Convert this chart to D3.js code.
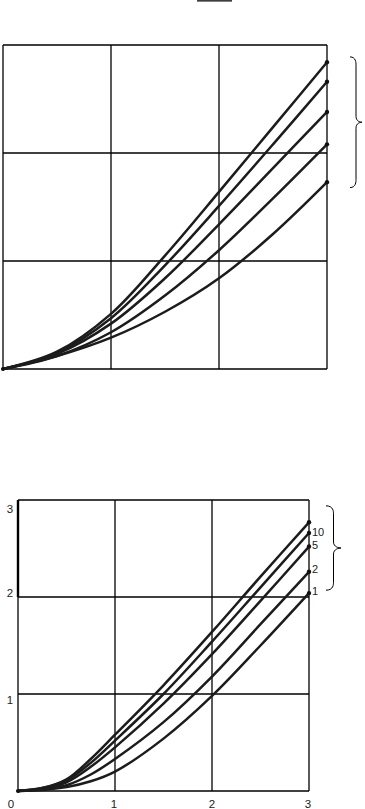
<!DOCTYPE html>
<html>
<head>
<meta charset="utf-8">
<script src="https://cdn.jsdelivr.net/npm/d3@7"></script>
<style>
  body { margin: 0; background: #fff; }
  svg { display: block; font-family: "Liberation Sans", Arial, sans-serif; }
</style>
</head>
<body>
<svg id="chart" width="365" height="809"></svg>
<script>
// upper chart: x positions and five curves (top to bottom)
var upperX = [0, 0.5, 1, 1.5, 2, 2.5, 3];
var upperCurves = [
    [0, 0.16, 0.51, 1.05, 1.64, 2.24, 2.84],
    [0, 0.15, 0.47, 0.96, 1.51, 2.08, 2.66],
    [0, 0.14, 0.42, 0.84, 1.34, 1.86, 2.38],
    [0, 0.12, 0.34, 0.68, 1.10, 1.58, 2.08],
    [0, 0.12, 0.29, 0.53, 0.84, 1.25, 1.73]
];

// lower chart: x positions and five curves (top to bottom)
var lowerX = [0, 0.25, 0.5, 0.75, 1, 1.5, 2, 2.5, 3];
var lowerCurves = [
    [0, 0.03, 0.12, 0.33, 0.58, 1.09, 1.64, 2.21, 2.77],
    [0, 0.03, 0.11, 0.29, 0.52, 1.00, 1.54, 2.10, 2.66],
    [0, 0.02, 0.09, 0.25, 0.45, 0.90, 1.41, 1.96, 2.52],
    [0, 0.02, 0.06, 0.17, 0.33, 0.71, 1.18, 1.72, 2.26],
    [0, 0.01, 0.04, 0.10, 0.20, 0.54, 0.98, 1.50, 2.04]
];
var lowerCurveLabels = ["", "10", "5", "2", "1"];

var gridTicks = [0, 1, 2, 3];
var lowerXTickLabels = ["0", "1", "2", "3"];
var lowerYTickLabels = ["1", "2", "3"];

var svg = d3.select("#chart");

function drawPanel(g, x, y, xs, curves) {
    // grid + frame
    g.selectAll(".vgrid").data(gridTicks).enter().append("line")
        .attr("x1", d => x(d)).attr("x2", d => x(d))
        .attr("y1", y(0)).attr("y2", y(3))
        .attr("stroke", "#000").attr("stroke-width", 1.3);
    g.selectAll(".hgrid").data(gridTicks).enter().append("line")
        .attr("y1", d => y(d)).attr("y2", d => y(d))
        .attr("x1", x(0)).attr("x2", x(3))
        .attr("stroke", "#000").attr("stroke-width", 1.3);

    var line = d3.line()
        .x((d, i) => x(xs[i]))
        .y(d => y(d))
        .curve(d3.curveCatmullRom.alpha(0.5));

    g.selectAll(".curve").data(curves).enter().append("path")
        .attr("fill", "none")
        .attr("stroke", "#1c1c1c")
        .attr("stroke-width", 2.5)
        .attr("stroke-linecap", "round")
        .attr("d", line);

    // end dots
    g.selectAll(".dot").data(curves).enter().append("circle")
        .attr("cx", x(3))
        .attr("cy", d => y(d[d.length - 1]))
        .attr("r", 2.2)
        .attr("fill", "#111");
    g.append("circle").attr("cx", x(0)).attr("cy", y(0)).attr("r", 2).attr("fill", "#111");
}

// curly brace opening to the left, tip pointing right
function brace(x0, y0, y1, w) {
    var m = (y0 + y1) / 2, h = w / 2, r = 6;
    return "M" + x0 + "," + y0 +
        " C" + (x0 + h) + "," + y0 + " " + (x0 + h) + "," + (y0 + r) + " " + (x0 + h) + "," + (y0 + r + 2) +
        " L" + (x0 + h) + "," + (m - r) +
        " C" + (x0 + h) + "," + (m - 1) + " " + (x0 + w - 2) + "," + m + " " + (x0 + w) + "," + m +
        " C" + (x0 + w - 2) + "," + m + " " + (x0 + h) + "," + (m + 1) + " " + (x0 + h) + "," + (m + r) +
        " L" + (x0 + h) + "," + (y1 - r - 2) +
        " C" + (x0 + h) + "," + (y1 - r) + " " + (x0 + h) + "," + y1 + " " + x0 + "," + y1;
}

// ---- upper chart
var x1 = d3.scaleLinear().domain([0, 3]).range([3, 327]);
var y1 = d3.scaleLinear().domain([0, 3]).range([369, 45]);
var g1 = svg.append("g");
drawPanel(g1, x1, y1, upperX, upperCurves);

// remnant of the fraction bar above the chart
svg.append("line")
    .attr("x1", 197).attr("x2", 232).attr("y1", 0.8).attr("y2", 0.8)
    .attr("stroke", "#000").attr("stroke-width", 1.3);

g1.append("path")
    .attr("d", brace(350, y1(2.89), y1(1.68), 12))
    .attr("fill", "none").attr("stroke", "#000").attr("stroke-width", 1);

// ---- lower chart
var x2 = d3.scaleLinear().domain([0, 3]).range([18, 309]);
var y2 = d3.scaleLinear().domain([0, 3]).range([791, 500]);
var g2 = svg.append("g");
drawPanel(g2, x2, y2, lowerX, lowerCurves);

// thicker left edge between 2 and 3
g2.append("line")
    .attr("x1", x2(0)).attr("x2", x2(0))
    .attr("y1", y2(2)).attr("y2", y2(3))
    .attr("stroke", "#000").attr("stroke-width", 2.4);

// axis labels
var xLabelShift = [-7, -1, 0, -1];
g2.selectAll(".xl").data(lowerXTickLabels).enter().append("text")
    .attr("x", (d, i) => x2(gridTicks[i]) + xLabelShift[i])
    .attr("y", 808)
    .attr("text-anchor", "middle")
    .attr("font-size", 11.5)
    .attr("fill", "#222")
    .text(d => d);

var yLabelShift = [6, -4, 9];
g2.selectAll(".yl").data(lowerYTickLabels).enter().append("text")
    .attr("x", 10)
    .attr("y", (d, i) => y2(i + 1) + yLabelShift[i] + 4)
    .attr("text-anchor", "middle")
    .attr("font-size", 11.5)
    .attr("fill", "#222")
    .text(d => d);

// curve labels
var labelShift = [0, -1, 0, -1, 0];
g2.selectAll(".cl").data(lowerCurves).enter().append("text")
    .attr("x", 312)
    .attr("y", (d, i) => y2(d[d.length - 1]) + labelShift[i] + (i === 1 ? 4 : 2))
    .attr("font-size", 11)
    .attr("fill", "#222")
    .text((d, i) => lowerCurveLabels[i]);

g2.append("path")
    .attr("d", brace(326, y2(2.94), y2(2.07), 15))
    .attr("fill", "none").attr("stroke", "#000").attr("stroke-width", 1);
</script>
</body>
</html>
